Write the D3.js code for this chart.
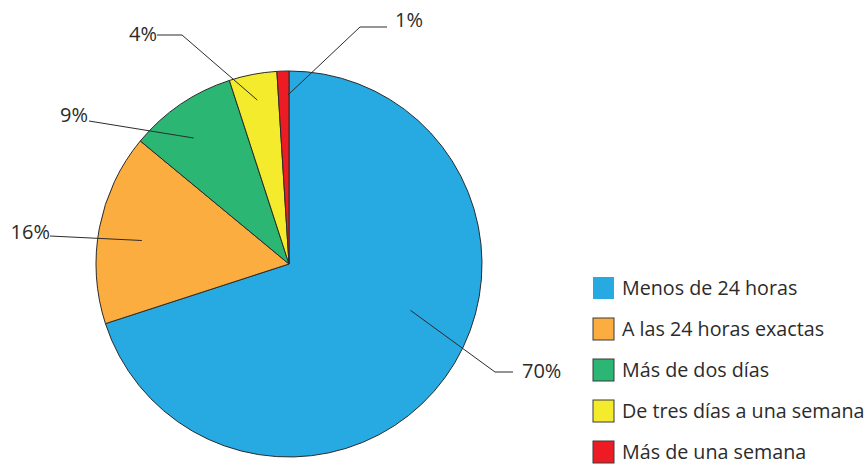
<!DOCTYPE html>
<html>
<head>
<meta charset="utf-8">
<script src="https://cdn.jsdelivr.net/npm/d3@7"></script>
<style>
  body { margin: 0; background: #fff; }
  text { font-family: "Open Sans", sans-serif; fill: #2b2b2b; }
</style>
</head>
<body>
<div id="chart-area"></div>
<script>
// data
var categories = ["Menos de 24 horas", "A las 24 horas exactas", "Más de dos días",
                  "De tres días a una semana", "Más de una semana"];
var values = [70, 16, 9, 4, 1];
var labels = ["70%", "16%", "9%", "4%", "1%"];
var colors = ["#27a9e1", "#fbad40", "#2bb673", "#f4eb2c", "#ed1c24"];

// leader layout (relative to pie centre): t = fraction across slice, r = inner radius
var leaders = [
    {t: 0.44, r: 130, pts: [[206, 108], [224, 108]], tx: 233, ty: 114, anchor: "start"},
    {t: 0.47, r: 149, pts: [[-239, -28]], tx: -239, ty: -25, anchor: "end"},
    {t: 0.41, r: 158, pts: [[-200, -143]], tx: -201, ty: -142, anchor: "end"},
    {t: 0.49, r: 167, pts: [[-107, -229], [-132, -229]], tx: -132, ty: -223, anchor: "end"},
    {t: 0.9, r: 169, pts: [[71, -237], [98, -237]], tx: 106, ty: -237, anchor: "start"}
];

var width = 866, height = 467;
var cx = 289, cy = 264, radius = 193;

var svg = d3.select("#chart-area").append("svg")
    .attr("width", width)
    .attr("height", height);

var pie = d3.pie().sort(null).value((d) => { return d; });
var arc = d3.arc().innerRadius(0).outerRadius(radius);
var arcs = pie(values);

var g = svg.append("g").attr("transform", "translate(" + cx + "," + cy + ")");

g.selectAll("path.slice")
    .data(arcs)
    .enter()
    .append("path")
        .attr("class", "slice")
        .attr("d", arc)
        .attr("fill", (d, i) => { return colors[i]; })
        .attr("stroke", "#2b2b2b")
        .attr("stroke-width", 1);

// leader lines
var line = d3.line();
g.selectAll("path.leader")
    .data(arcs)
    .enter()
    .append("path")
        .attr("class", "leader")
        .attr("d", (d, i) => {
            var l = leaders[i];
            var a = d.startAngle + l.t * (d.endAngle - d.startAngle);
            var p0 = [Math.sin(a) * l.r, -Math.cos(a) * l.r];
            return line([p0].concat(l.pts));
        })
        .attr("fill", "none")
        .attr("stroke", "#2b2b2b")
        .attr("stroke-width", 1);

g.selectAll("text.pct")
    .data(labels)
    .enter()
    .append("text")
        .attr("class", "pct")
        .attr("x", (d, i) => { return leaders[i].tx; })
        .attr("y", (d, i) => { return leaders[i].ty; })
        .attr("text-anchor", (d, i) => { return leaders[i].anchor; })
        .style("font-size", "20px")
        .text((d) => { return d; });

// legend
var y = d3.scalePoint().domain(categories).range([288, 452]);

var legend = svg.selectAll("g.legend")
    .data(categories)
    .enter()
    .append("g")
        .attr("class", "legend")
        .attr("transform", (d) => { return "translate(593," + y(d) + ")"; });

legend.append("rect")
    .attr("x", 0)
    .attr("y", -11)
    .attr("width", 21)
    .attr("height", 22)
    .attr("fill", (d, i) => { return colors[i]; })
    .attr("stroke", (d, i) => { return i == 0 ? "none" : "#3a3a3a"; })
    .attr("stroke-width", 1);

legend.append("text")
    .attr("x", 29)
    .attr("y", 7)
    .style("font-size", "19.7px")
    .text((d) => { return d; });
</script>
</body>
</html>
